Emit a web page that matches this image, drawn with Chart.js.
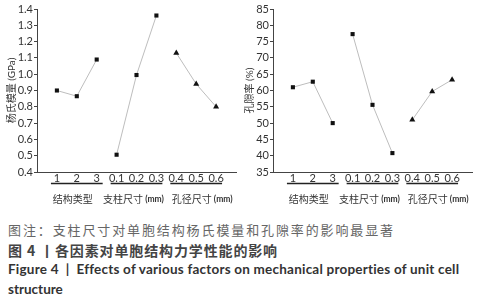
<!DOCTYPE html>
<html lang="zh">
<head>
<meta charset="UTF-8">
<title>各因素对单胞结构力学性能的影响</title>
<script src="https://cdn.jsdelivr.net/npm/chart.js"></script>
<style>
    body {
        margin: 0;
        background: #fff;
        width: 481px;
        height: 300px;
        position: relative;
        overflow: hidden;
    }
    .plot {
        position: absolute;
        top: 0;
        width: 240px;
        height: 210px;
    }
    .cap {
        position: absolute;
        left: 8px;
        white-space: nowrap;
        line-height: 1;
    }
    #cap1 { top: 220px; font: 13px "Noto Sans CJK SC"; color: #666; letter-spacing: 1.3px; }
    #cap2 { top: 240px; font: bold 14px "Noto Sans CJK SC"; color: #444; }
    #cap3 { top: 261px; font: bold 13.5px Lato, "Open Sans", sans-serif; color: #333; }
    #cap4 { top: 281px; font: bold 13.5px Lato, "Open Sans", sans-serif; color: #333; }
</style>
</head>
<body>
<div class="plot" style="left:0"><canvas id="modChart" width="240" height="210"></canvas></div>
<div class="plot" style="left:240px"><canvas id="porChart" width="240" height="210"></canvas></div>
<div class="cap" id="cap1">图注：支柱尺寸对单胞结构杨氏模量和孔隙率的影响最显著</div>
<div class="cap" id="cap2">图 4 丨各因素对单胞结构力学性能的影响</div>
<div class="cap" id="cap3">Figure 4 &nbsp;| &nbsp;Effects of various factors on mechanical properties of unit cell</div>
<div class="cap" id="cap4">structure</div>

<script>
// factor groups and their levels
const groupNames = ['结构类型', '支柱尺寸', '孔径尺寸'];
const groupUnits = ['', ' (mm)', ' (mm)'];
const structLevels = ['1', '2', '3'];
const strutLevels = ['0.1', '0.2', '0.3'];
const poreLevels = ['0.4', '0.5', '0.6'];

// Young's modulus (GPa)
const modStruct = [0.90, 0.865, 1.09];
const modStrut = [0.506, 0.995, 1.36];
const modPore = [1.13, 0.94, 0.80];

// porosity (%)
const porStruct = [61.0, 62.7, 50.0];
const porStrut = [77.3, 55.6, 40.8];
const porPore = [51.0, 59.7, 63.3];

const levelGroups = [structLevels, strutLevels, poreLevels];
const xLabels = [''].concat(structLevels, strutLevels, poreLevels, ['']);

const axisColor = '#444';
const textColor = '#333';
const numFont = { family: 'Lato, "Open Sans", sans-serif', size: 11 };
const titleFont = { family: 'Lato, "Noto Sans CJK SC"', size: 10 };
const labelShift = [-4, -3, 6];   // group names sit a little off-centre in the figure

function series(levels, values, style) {
    return {
        data: levels.map((l, i) => ({ x: l, y: values[i] })),
        borderColor: '#bdbdbd',
        borderWidth: 1,
        pointStyle: style,
        pointRadius: style === 'triangle' ? 3.5 : 2.9,
        pointBackgroundColor: '#111',
        pointBorderColor: '#111',
        pointBorderWidth: 0,
        tension: 0
    };
}

// underline + name under each factor group
const groupPlugin = {
    id: 'groupLabels',
    afterDraw(chart) {
        const ctx = chart.ctx;
        const xs = chart.scales.x;
        const step = xs.getPixelForValue(1) - xs.getPixelForValue(0);
        const nameFont = '10px "Noto Sans CJK SC"';
        const unitFont = 'bold 8.5px Lato, sans-serif';
        ctx.save();
        levelGroups.forEach((levels, g) => {
            const a = xs.getPixelForValue(xLabels.indexOf(levels[0]));
            const b = xs.getPixelForValue(xLabels.indexOf(levels[levels.length - 1]));
            const mid = xs.getPixelForValue(xLabels.indexOf(levels[1])) + labelShift[g];
            ctx.strokeStyle = '#222';
            ctx.lineWidth = 1.5;
            ctx.beginPath();
            ctx.moveTo(a - step * 0.3, 183.5);
            ctx.lineTo(b + step * 0.3, 183.5);
            ctx.stroke();

            ctx.font = nameFont;
            const w1 = ctx.measureText(groupNames[g]).width;
            ctx.font = unitFont;
            const w2 = ctx.measureText(groupUnits[g]).width;
            const x0 = mid - (w1 + w2) / 2;
            ctx.fillStyle = textColor;
            ctx.textAlign = 'left';
            ctx.textBaseline = 'middle';
            ctx.font = nameFont;
            ctx.fillText(groupNames[g], x0, 199);
            ctx.font = unitFont;
            ctx.fillText(groupUnits[g], x0 + w1, 199.5);
        });
        ctx.restore();
    }
};

function makeChart(id, sets, yMin, yMax, yStep, digits, yTitle, padRight, titlePad, yWidth) {
    return new Chart(document.getElementById(id), {
        type: 'line',
        data: {
            labels: xLabels,
            datasets: [
                series(structLevels, sets[0], 'rect'),
                series(strutLevels, sets[1], 'rect'),
                series(poreLevels, sets[2], 'triangle')
            ]
        },
        options: {
            responsive: false,
            animation: false,
            layout: { padding: { top: 9, right: padRight, left: 0, bottom: 0 } },
            plugins: { legend: { display: false }, tooltip: { enabled: false } },
            scales: {
                x: {
                    type: 'category',
                    offset: false,
                    grid: { display: false, drawTicks: false, tickLength: 0 },
                    border: { display: true, color: axisColor, width: 1 },
                    ticks: { color: textColor, font: numFont, padding: 0, maxRotation: 0, autoSkip: false },
                    afterFit(s) { s.height = 38; }
                },
                y: {
                    min: yMin,
                    max: yMax,
                    grid: { display: true, drawOnChartArea: false, drawTicks: true, tickLength: 3, color: axisColor },
                    border: { display: true, color: axisColor, width: 1 },
                    ticks: {
                        stepSize: yStep,
                        color: textColor,
                        font: numFont,
                        padding: 1,
                        callback: v => Number(v).toFixed(digits)
                    },
                    title: { display: true, text: yTitle, color: textColor, font: titleFont, padding: { top: titlePad, bottom: 0 } },
                    afterFit(s) { s.width = yWidth; }
                }
            }
        },
        plugins: [groupPlugin]
    });
}

makeChart('modChart', [modStruct, modStrut, modPore], 0.4, 1.4, 0.1, 1, '杨氏模量 (GPa)', 2, 6, 37);
makeChart('porChart', [porStruct, porStrut, porPore], 35, 85, 5, 0, '孔隙率 (%)', 8, 4, 33);

// stretch caption lines to the widths they have in the figure
function fitWidth(id, right) {
    const el = document.getElementById(id);
    el.style.letterSpacing = '';
    const n = el.textContent.length;
    const ls = parseFloat(getComputedStyle(el).letterSpacing) || 0;
    const w = el.getBoundingClientRect().width;
    el.style.letterSpacing = (ls + (right - 8 - w) / n) + 'px';
}
function fitCaptions() {
    fitWidth('cap1', 395);
    fitWidth('cap2', 278);
    fitWidth('cap3', 459);
}
fitCaptions();
document.fonts.ready.then(fitCaptions);
</script>
</body>
</html>
